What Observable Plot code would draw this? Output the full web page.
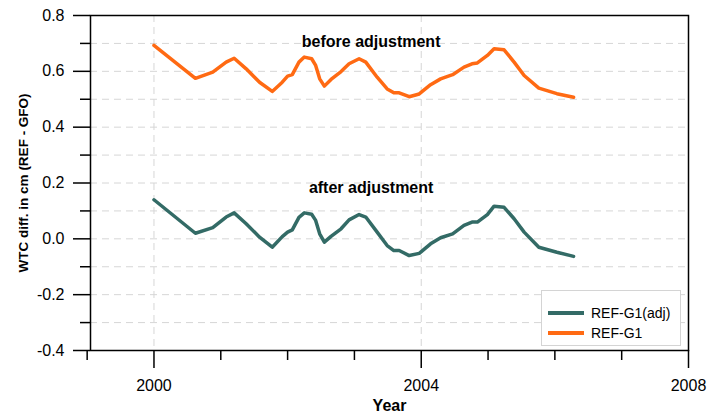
<!DOCTYPE html>
<html>
<head>
<meta charset="utf-8">
<script src="https://cdn.jsdelivr.net/npm/d3@7"></script>
<script src="https://cdn.jsdelivr.net/npm/@observablehq/plot@0.6"></script>
<style>
  html, body { margin: 0; padding: 0; background: #fff; }
  #wrap { position: relative; width: 708px; height: 414px; font-family: "Liberation Sans", Arial, sans-serif; }
  #legend { position: absolute; left: 541px; top: 290px; width: 140px; height: 56px; background: #fff; border: 1px solid #d4d4d4; box-sizing: border-box; }
  .item { position: absolute; left: 6px; height: 20px; display: flex; align-items: center; font-size: 14px; color: #000; }
  .swatch { width: 36px; height: 4px; margin-right: 7px; }
</style>
</head>
<body>
<div id="wrap"></div>
<script>
// ---- data ----
const years = [2000.0, 2000.62, 2000.88, 2001.08, 2001.2, 2001.38, 2001.58, 2001.77, 2001.92, 2002.0,
  2002.07, 2002.17, 2002.25, 2002.36, 2002.42, 2002.48, 2002.55, 2002.65, 2002.8, 2002.92,
  2003.07, 2003.17, 2003.34, 2003.49, 2003.59, 2003.67, 2003.82, 2003.97, 2004.14, 2004.29,
  2004.47, 2004.64, 2004.76, 2004.84, 2004.99, 2005.09, 2005.24, 2005.39, 2005.54, 2005.76,
  2006.03, 2006.28];
const beforeAdj = [0.693, 0.575, 0.597, 0.633, 0.647, 0.609, 0.561, 0.528, 0.561, 0.583,
  0.588, 0.633, 0.651, 0.645, 0.621, 0.573, 0.547, 0.571, 0.599, 0.627,
  0.645, 0.633, 0.579, 0.537, 0.523, 0.523, 0.509, 0.519, 0.552, 0.573,
  0.588, 0.615, 0.627, 0.630, 0.657, 0.681, 0.677, 0.633, 0.585, 0.540,
  0.520, 0.507];
const afterAdj = [0.140, 0.020, 0.040, 0.078, 0.093, 0.054, 0.006, -0.030, 0.008, 0.024,
  0.032, 0.077, 0.093, 0.088, 0.066, 0.018, -0.012, 0.009, 0.036, 0.068,
  0.087, 0.078, 0.024, -0.024, -0.042, -0.042, -0.060, -0.052, -0.018, 0.004,
  0.018, 0.048, 0.060, 0.060, 0.087, 0.117, 0.113, 0.072, 0.024, -0.030,
  -0.048, -0.063];
const seriesNames = ["REF-G1(adj)", "REF-G1"];
const seriesColors = ["#336b66", "#ff6a13"];
const majorYearTicks = [2000, 2004, 2008];
const minorYearTicks = [1999, 2001, 2002, 2003, 2005, 2006, 2007];
const majorYTicks = [-0.4, -0.2, 0.0, 0.2, 0.4, 0.6, 0.8];
const minorYTicks = [-0.3, -0.1, 0.1, 0.3, 0.5, 0.7];
const gridYValues = [-0.3, -0.2, -0.1, 0.0, 0.1, 0.2, 0.3, 0.4, 0.5, 0.6, 0.7];
const gridXValues = [2000, 2004];
const annotationText = ["before adjustment", "after adjustment"];
const annotationX = [2003.25, 2003.25];
const annotationY = [0.707, 0.182];
const yLabel = "WTC diff. in cm (REF - GFO)";
const xLabel = "Year";

const rows = years.flatMap((yr, i) => [
  {year: yr, value: afterAdj[i], series: seriesNames[0]},
  {year: yr, value: beforeAdj[i], series: seriesNames[1]}
]);
const annotations = annotationText.map((t, i) => ({text: t, x: annotationX[i], y: annotationY[i]}));

const grid = {stroke: "#d6d6d6", strokeOpacity: 1, strokeDasharray: "7,5", strokeWidth: 1};

const chart = Plot.plot({
  width: 708, height: 414,
  marginLeft: 90, marginRight: 20, marginTop: 15, marginBottom: 64,
  x: {domain: [1999.05, 2008]},
  y: {domain: [-0.4, 0.8]},
  color: {domain: seriesNames, range: seriesColors},
  style: {fontFamily: "'Liberation Sans', Arial, sans-serif", fontSize: "16px", color: "#000", background: "#fff"},
  marks: [
    Plot.gridY(gridYValues, grid),
    Plot.gridX(gridXValues, grid),
    Plot.lineY(rows, {x: "year", y: "value", z: "series", stroke: "series", strokeWidth: 3.5, curve: "linear", strokeLinejoin: "round"}),
    Plot.text(annotations, {x: "x", y: "y", text: "text", fontWeight: "bold", fontSize: 16, fill: "#000"}),
    Plot.frame({stroke: "#000", strokeWidth: 1.5}),
    Plot.axisX(majorYearTicks, {tickSize: 18, tickPadding: 11, tickFormat: d => String(d), label: null, strokeWidth: 1.5, fontSize: 16}),
    Plot.axisX(minorYearTicks, {tickSize: 10, tickFormat: () => "", label: null, strokeWidth: 1.5}),
    Plot.axisY(majorYTicks, {tickSize: 17, tickPadding: 9, tickFormat: d => d.toFixed(1), label: null, strokeWidth: 1.5, fontSize: 16}),
    Plot.axisY(minorYTicks, {tickSize: 10, tickFormat: () => "", label: null, strokeWidth: 1.5}),
    Plot.text([yLabel], {frameAnchor: "left", dx: -67, rotate: -90, textAnchor: "middle", lineAnchor: "middle", fontWeight: "bold", fontSize: 13.5, fill: "#000"}),
    Plot.text([xLabel], {frameAnchor: "bottom", dy: 55, textAnchor: "middle", lineAnchor: "middle", fontWeight: "bold", fontSize: 16, fill: "#000"})
  ]
});

const wrap = document.getElementById("wrap");
wrap.appendChild(chart);

// legend
const legend = document.createElement("div");
legend.id = "legend";
seriesNames.forEach((name, i) => {
  const item = document.createElement("div");
  item.className = "item";
  item.style.top = (12 + i * 20) + "px";
  const sw = document.createElement("div");
  sw.className = "swatch";
  sw.style.background = seriesColors[i];
  const lab = document.createElement("span");
  lab.textContent = name;
  item.appendChild(sw);
  item.appendChild(lab);
  legend.appendChild(item);
});
wrap.appendChild(legend);
</script>
</body>
</html>
